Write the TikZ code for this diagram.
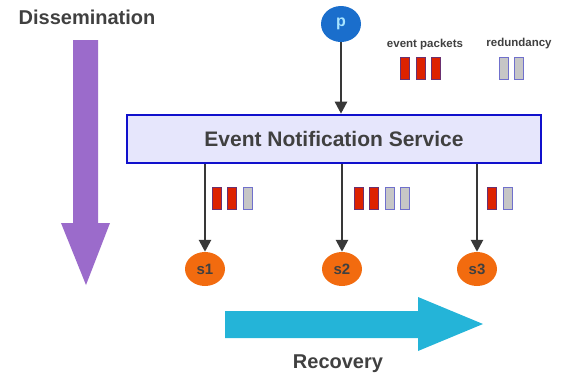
\documentclass[tikz,border=0pt]{standalone}
\usepackage{fontspec}
\setmainfont{Liberation Sans}
\usetikzlibrary{shapes.geometric,arrows.meta}

\definecolor{txtgray}{HTML}{404040}
\definecolor{linegray}{HTML}{383838}
\definecolor{dissem}{HTML}{9B6BCB}
\definecolor{recov}{HTML}{24B4D8}
\definecolor{pubblue}{HTML}{1A6ECC}
\definecolor{pubtext}{HTML}{A8E4FF}
\definecolor{suborange}{HTML}{F26B0F}
\definecolor{ensfill}{HTML}{E6E6FC}
\definecolor{ensdraw}{HTML}{1010CC}
\definecolor{pktred}{HTML}{DD2200}
\definecolor{pktedge}{HTML}{6A3070}
\definecolor{redgray}{HTML}{C6C6C6}
\definecolor{rededge}{HTML}{7070CC}

\begin{document}
\begin{tikzpicture}[x=1pt,y=-1pt]
			% Define styles for the nodes and arrows
			\tikzstyle{publisher} = [ellipse, fill=pubblue, minimum width=40pt, minimum height=36pt, inner sep=0pt, text=pubtext, font=\bfseries\fontsize{16}{18}\selectfont]
			\tikzstyle{subscriber} = [ellipse, fill=suborange, minimum width=40pt, minimum height=34pt, inner sep=0pt, text=txtgray, font=\bfseries\fontsize{15}{18}\selectfont]
			\tikzstyle{service} = [rectangle, draw=ensdraw, line width=2.6pt, fill=ensfill, minimum width=414pt, minimum height=48pt, text=txtgray, font=\bfseries\fontsize{21}{25}\selectfont]
			\tikzstyle{packet} = [rectangle, draw=pktedge, fill=pktred, line width=0.7pt, minimum width=9pt, minimum height=22pt, inner sep=0pt]
			\tikzstyle{spare} = [rectangle, draw=rededge, fill=redgray, line width=0.7pt, minimum width=9pt, minimum height=22pt, inner sep=0pt]
			\tikzstyle{caption} = [text=txtgray, font=\bfseries\fontsize{20}{24}\selectfont]
			\tikzstyle{small} = [text=txtgray, font=\bfseries\fontsize{11.5}{14}\selectfont]
			\tikzstyle{flow} = [draw=linegray, line width=2.6pt, -{Triangle[length=12pt,width=12pt]}]

			\useasboundingbox (0,0) rectangle (566,386);

			% Big arrows
			\fill[dissem] (73,40) -- (98,40) -- (98,223) -- (110,223) -- (86,285)
				-- (61,223) -- (73,223) -- cycle;
			\fill[recov] (225,311) -- (418,311) -- (418,297) -- (483,324) -- (418,351)
				-- (418,338) -- (225,338) -- cycle;

			\node[caption] (dissemination) at (87,17) {Dissemination};
			\node[caption] (recovery) at (338,364) {Recovery};

			% Define the nodes with positions
			\node[publisher] (p) at (341,24) {p};
			\node[service] (ens) at (334,139) {Event Notification Service};

			\node[subscriber] (s1) at (205,269) {s1};
			\node[subscriber] (s2) at (342,269) {s2};
			\node[subscriber] (s3) at (477,269) {s3};

			% Legend
			\node[small] (evlabel) at (425,45) {event packets};
			\node[small] (rdlabel) at (519,44) {redundancy};

			\node[packet] (e1) at (405,68.5) {};
			\node[packet] (e2) at (421,68.5) {};
			\node[packet] (e3) at (436,68.5) {};
			\node[spare] (r1) at (503.5,68.5) {};
			\node[spare] (r2) at (518.5,68.5) {};

			% Packets delivered to each subscriber
			\node[packet] (a1) at (216.5,198) {};
			\node[packet] (a2) at (232,198) {};
			\node[spare] (a3) at (247.5,198) {};

			\node[packet] (b1) at (358.5,198) {};
			\node[packet] (b2) at (373.5,198) {};
			\node[spare] (b3) at (389.5,198) {};
			\node[spare] (b4) at (404.5,198) {};

			\node[packet] (c1) at (491.5,198) {};
			\node[spare] (c2) at (507.5,198) {};

			% Draw the edges
			\draw[flow] (p.south) -- (p |- ens.north);
			\draw[flow] (ens.south -| s1) -- (s1.north);
			\draw[flow] (ens.south -| s2) -- (s2.north);
			\draw[flow] (ens.south -| s3) -- (s3.north);

		\end{tikzpicture}
\end{document}
